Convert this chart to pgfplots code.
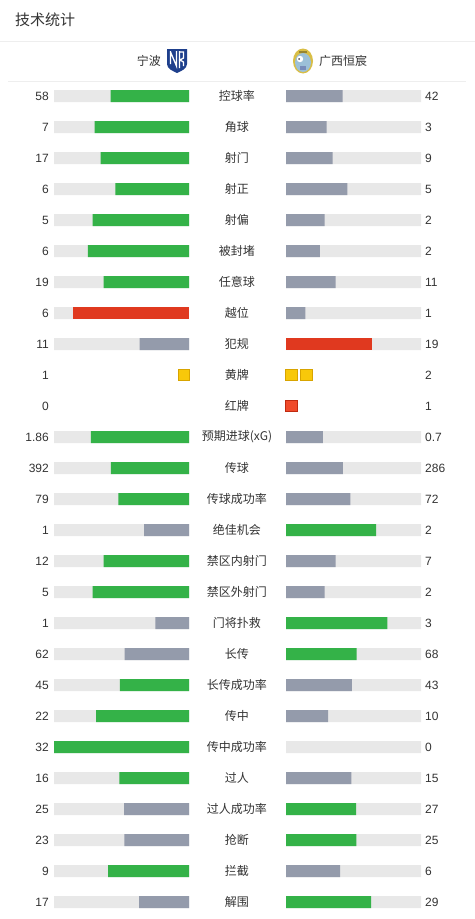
\documentclass[border=0pt]{standalone}
\usepackage{pgfplots}
\pgfplotsset{compat=1.18}
\usepackage{pgfplotstable}
\usepackage{fontspec}
\setmainfont{Liberation Sans}
\newfontfamily\cjk{Noto Sans CJK SC}
\definecolor{txt}{HTML}{333333}
\definecolor{bgreen}{HTML}{34B248}
\definecolor{bgray}{HTML}{949BAB}
\definecolor{bred}{HTML}{E0391F}
\definecolor{track}{HTML}{E8E8E8}
\definecolor{sep}{HTML}{EEEEEE}
\definecolor{cy}{HTML}{F8C80A}
\definecolor{cyb}{HTML}{D8A400}
\definecolor{crd}{HTML}{F04A2A}
\definecolor{crb}{HTML}{C02A10}
\definecolor{nbblue}{HTML}{1E3F8C}
\definecolor{gxy}{HTML}{D9BE45}
\definecolor{gxb}{HTML}{9CC0D8}

\pgfplotstableread{
row label a b cl cr trk
0 控球率 58 42 1 2 1
1 角球 7 3 1 2 1
2 射门 17 9 1 2 1
3 射正 6 5 1 2 1
4 射偏 5 2 1 2 1
5 被封堵 6 2 1 2 1
6 任意球 19 11 1 2 1
7 越位 6 1 3 2 1
8 犯规 11 19 2 3 1
9 黄牌 1 2 0 0 0
10 红牌 0 1 0 0 0
11 预期进球(xG) 1.86 0.7 1 2 1
12 传球 392 286 1 2 1
13 传球成功率 79 72 1 2 1
14 绝佳机会 1 2 2 1 1
15 禁区内射门 12 7 1 2 1
16 禁区外射门 5 2 1 2 1
17 门将扑救 1 3 2 1 1
18 长传 62 68 2 1 1
19 长传成功率 45 43 1 2 1
20 传中 22 10 1 2 1
21 传中成功率 32 0 1 0 1
22 过人 16 15 1 2 1
23 过人成功率 25 27 2 1 1
24 抢断 23 25 2 1 1
25 拦截 9 6 1 2 1
26 解围 17 29 2 1 1
}\data

\pgfplotsset{
  hbar/.style={xbar, bar width=12bp, bar shift=0pt, draw=none, fill=#1},
  sideaxis/.style={width=135bp, height=919bp, scale only axis, anchor=center, ymin=-3.096774, ymax=26.548387, y dir=reverse, hide axis, clip=false, unbounded coords=discard},
  lbl/.style={only marks, mark=*, mark size=0pt, mark options={draw=none,fill=none}, point meta=explicit symbolic, nodes near coords={\pgfplotspointmeta}, every node near coord/.append style={anchor=#1, inner sep=0pt, text=txt, font=\fontsize{12bp}{14bp}\selectfont}},
  card/.style 2 args={only marks, mark=square*, mark size=5.6bp, mark options={fill=#1, draw=#2, line width=0.6bp, rounded corners=1.2bp}},
}

\begin{document}
\begin{tikzpicture}
\path[use as bounding box, fill=white] (0,0) rectangle (475bp,-919bp);
% header
\node[anchor=west, inner sep=0pt, text=txt, font=\cjk\fontsize{15bp}{18bp}\selectfont] at (15bp,-20bp) {技术统计};
\draw[sep, line width=1bp] (0bp,-41bp) -- (475bp,-41bp);
\node[anchor=east, inner sep=0pt, text=txt, font=\cjk\fontsize{12bp}{14bp}\selectfont] at (161bp,-61bp) {宁波};
\node[anchor=west, inner sep=0pt, text=txt, font=\cjk\fontsize{12bp}{14bp}\selectfont] at (319bp,-61bp) {广西恒宸};
\draw[sep, line width=1bp] (8bp,-81.5bp) -- (466bp,-81.5bp);
% Ningbo logo
\fill[nbblue] (167bp,-49bp) -- (187bp,-49bp) -- (187bp,-64bp) .. controls (187bp,-69bp) and (181bp,-71bp) .. (177bp,-73bp) .. controls (173bp,-71bp) and (167bp,-69bp) .. (167bp,-64bp) -- cycle;
\draw[white, line width=1.3bp] (170.5bp,-51bp) -- (170.5bp,-64bp) (170.5bp,-52bp) -- (176.5bp,-66bp) -- (176.5bp,-51bp);
\draw[white, line width=1.3bp] (179.5bp,-51bp) -- (179.5bp,-68bp) (179.5bp,-52bp) -- (183.5bp,-52bp) -- (183.5bp,-58bp) -- (180bp,-60bp) -- (183.5bp,-62bp) -- (183.5bp,-66bp);
% Guangxi logo
\fill[gxy] (303bp,-61bp) ellipse (10bp and 12.5bp);
\fill[gxb] (303bp,-62.5bp) ellipse (8bp and 9.5bp);
\fill[white] (300bp,-59bp) circle (3.2bp);
\fill[black!70] (299bp,-59bp) circle (1bp);
\fill[gxy!70!black] (299bp,-50.5bp) rectangle (307bp,-53bp);
\fill[nbblue!60] (300bp,-66bp) rectangle (306bp,-70bp);

% left side
\begin{axis}[sideaxis, at={(121.5bp,-459.5bp)}, xmin=-1, xmax=0]
\addplot[hbar=track] table[x expr={ifthenelse(\thisrow{trk}==1,-1,nan)}, y=row] {\data};
\addplot[hbar=bgreen] table[x expr={ifthenelse(\thisrow{cl}==1,-\thisrow{a}/(\thisrow{a}+\thisrow{b}),nan)}, y=row] {\data};
\addplot[hbar=bgray] table[x expr={ifthenelse(\thisrow{cl}==2,-\thisrow{a}/(\thisrow{a}+\thisrow{b}),nan)}, y=row] {\data};
\addplot[hbar=bred] table[x expr={ifthenelse(\thisrow{cl}==3,-\thisrow{a}/(\thisrow{a}+\thisrow{b}),nan)}, y=row] {\data};
\addplot[lbl=east] table[x expr=-1.037, y=row, meta=a] {\data};
\addplot[card={cy}{cyb}] coordinates {(-0.039,9)};
\end{axis}

% right side
\begin{axis}[sideaxis, at={(353.5bp,-459.5bp)}, xmin=0, xmax=1]
\addplot[hbar=track] table[x expr={ifthenelse(\thisrow{trk}==1,1,nan)}, y=row] {\data};
\addplot[hbar=bgreen] table[x expr={ifthenelse(\thisrow{cr}==1,\thisrow{b}/(\thisrow{a}+\thisrow{b}),nan)}, y=row] {\data};
\addplot[hbar=bgray] table[x expr={ifthenelse(\thisrow{cr}==2,\thisrow{b}/(\thisrow{a}+\thisrow{b}),nan)}, y=row] {\data};
\addplot[hbar=bred] table[x expr={ifthenelse(\thisrow{cr}==3,\thisrow{b}/(\thisrow{a}+\thisrow{b}),nan)}, y=row] {\data};
\addplot[lbl=west] table[x expr=1.0296, y=row, meta=b] {\data};
\addplot[lbl=center, every node near coord/.append style={font=\cjk\fontsize{12bp}{14bp}\selectfont}] table[x expr=-0.363, y=row, meta=label] {\data};
\addplot[card={cy}{cyb}] coordinates {(0.039,9) (0.150,9)};
\addplot[card={crd}{crb}] coordinates {(0.039,10)};
\end{axis}
\end{tikzpicture}
\end{document}
